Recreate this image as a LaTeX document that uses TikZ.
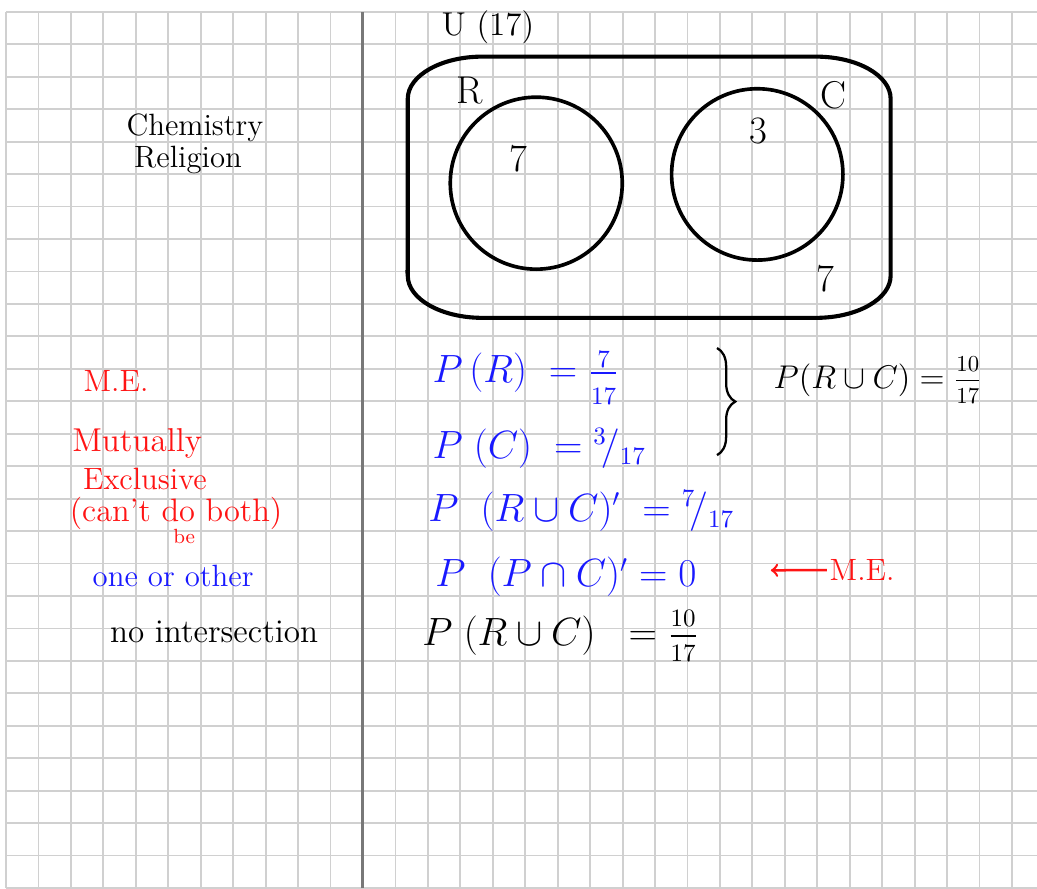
\documentclass[tikz,border=0pt]{standalone}
\usepackage{amssymb,amsfonts,amsmath}
\usetikzlibrary{arrows,calc,decorations.pathreplacing}

\definecolor{inkred}{RGB}{255,20,20}
\definecolor{inkblue}{RGB}{25,25,255}
\definecolor{gridgray}{RGB}{208,208,208}
\definecolor{margingray}{RGB}{120,120,120}

% stacked fraction with a little more room between the numbers
\newcommand{\stackfrac}[3][3pt]{\frac{\raisebox{0pt}[\height][#1]{$\scriptstyle #2$}}%
  {\raisebox{0pt}[\dimexpr\height+#1\relax][0pt]{$\scriptstyle #3$}}}

\begin{document}
\begin{tikzpicture}[x=0.5cm, y=0.5cm]
    \tikzstyle{every node}=[font=\fontsize{13.5}{16}\selectfont, inner sep=1pt]
    \tikzstyle{maths}=[font=\fontsize{16}{18}\selectfont, anchor=west, inner sep=0pt]
    \tikzstyle{setnum}=[font=\fontsize{17}{20}\selectfont]
    \tikzstyle{gridline}=[gridgray, line width=0.8pt]
    \tikzstyle{setline}=[black, line width=1.6pt]

      \useasboundingbox (-0.185,0) rectangle (31.77,27.365);

      % squared paper
      \foreach \x in {0,...,31}
        \draw[gridline] (\x,0) -- (\x,27);
      \foreach \y in {0,...,27}
        \draw[gridline] (0,\y) -- (31.77,\y);

      % margin line
      \draw[margingray, line width=1.3pt] (11,0) -- (11,27);

      % universal set, rounded box
      \draw[setline, line width=1.8pt] (12.38,18.87) -- (12.38,24.32)
         arc[start angle=180, end angle=90, x radius=2.3, y radius=1.3]
         -- (24.96,25.62)
         arc[start angle=90, end angle=0, x radius=2.3, y radius=1.3]
         -- (27.26,18.87)
         arc[start angle=0, end angle=-90, x radius=2.3, y radius=1.3]
         -- (14.68,17.57)
         arc[start angle=270, end angle=180, x radius=2.3, y radius=1.3]
         -- cycle;

      % the two sets
      \coordinate (cR) at (16.34,21.72);
      \coordinate (cC) at (23.15,21.99);
      \draw[setline] (cR) circle (2.65);
      \draw[setline] (cC) circle (2.64);

      \node[font=\fontsize{14.5}{16}\selectfont] (univ) at (14.85,26.53) {U (17)};
      \node[setnum] (setR) at (14.30,24.56) {R};
      \node[setnum] (setC) at (25.49,24.44) {C};
      \node[setnum] (numR) at (15.78,22.47) {7};
      \node[setnum] (numC) at (23.20,23.34) {3};
      \node[setnum] (numU) at (25.25,18.77) {7};

      % notes on the left
      \node (chem) at (5.82,23.42) {Chemistry};
      \node (reli) at (5.61,22.43) {Religion};
      \node[inkred] (me1) at (3.39,15.62) {M.E.};
      \node[inkred, font=\fontsize{14.5}{16}\selectfont] (mutu) at (4.04,13.71) {Mutually};
      \node[inkred] (excl) at (4.28,12.60) {Exclusive};
      \node[inkred, font=\fontsize{14.2}{16}\selectfont] (cant) at (5.24,11.53) {(can't do both)};
      \node[inkred, font=\small] (be) at (5.49,10.82) {be};
      \node[inkblue] (oneo) at (5.15,9.61) {one or other};
      \node[font=\fontsize{14.5}{16}\selectfont] (nint) at (6.41,7.89) {no intersection};

      % probabilities
      \node[maths, inkblue] (pR) at (13.13,15.72) {$P\,(R) \ = \stackfrac[6pt]{7}{17}$};
      \node[maths, inkblue] (pC) at (13.13,13.55) {$P\ (C) \ = {}^{3}\!/_{17}$};
      \node[maths, inkblue] (pRuCc) at (13.0,11.62) {$P\ \ (R\cup C)' \ = {}^{7}\!/_{17}$};
      \node[maths, inkblue] (pRnC) at (13.22,9.58) {$P\ \ (P\cap C)' = 0$};
      \node[maths] (pRuC) at (12.82,7.77) {$P\ (R\cup C) \ \ = \stackfrac{10}{17}$};

      % brace and sum
      \draw[decorate, decoration={brace, amplitude=8pt}, line width=1pt]
         (21.91,16.64) -- (21.91,13.34);
      \node[maths, font=\fontsize{14}{16}\selectfont] (sum) at (23.64,15.65) {$P(R\cup C) = \stackfrac{10}{17}$};

      % red remark
      \node[inkred] (me2) at (26.38,9.80) {M.E.};
      \coordinate (tip) at (23.57,9.79);
      \draw[inkred, -to, line width=1.1pt] (me2.west) -- (tip);

    \end{tikzpicture}
\end{document}
